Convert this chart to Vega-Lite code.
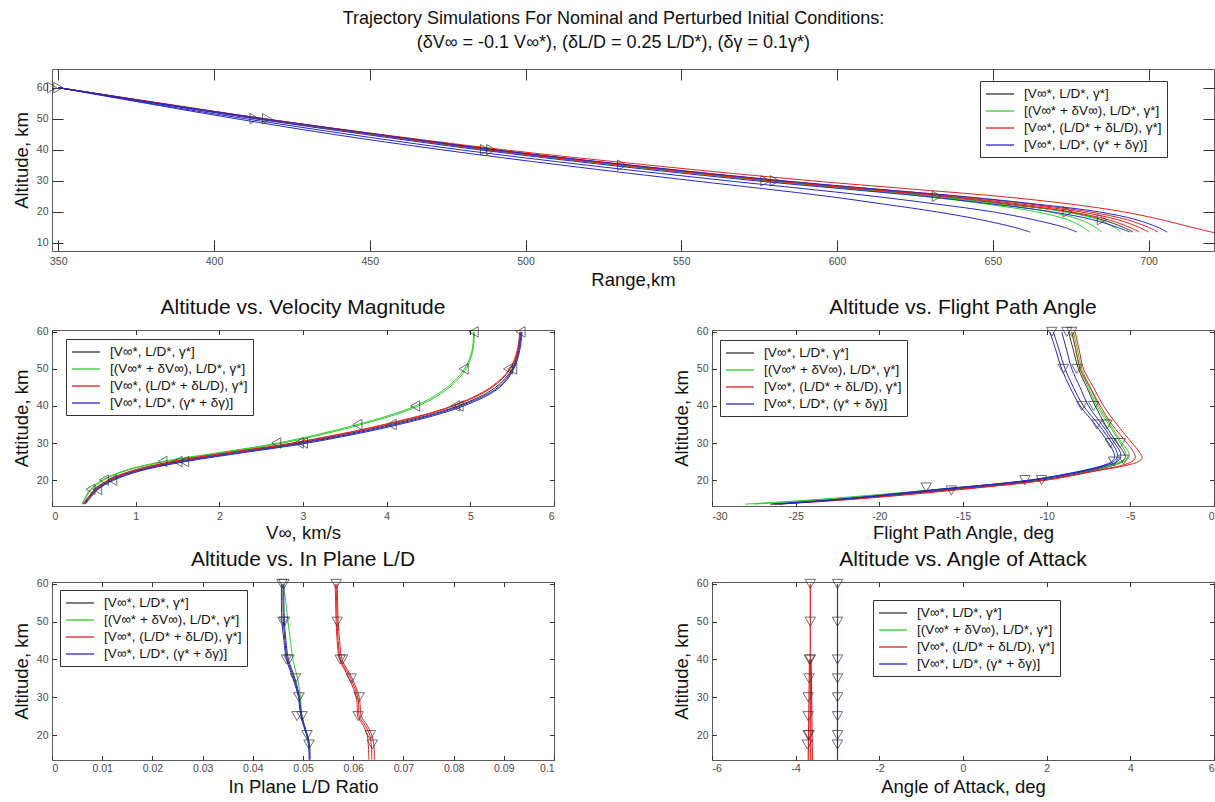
{
"$schema":"https://vega.github.io/schema/vega-lite/v6.json",
"background":"white",
"padding":{"left":11,"top":10,"right":4,"bottom":4},
"config":{
 "font":"Liberation Sans",
 "locale":{"number":{"decimal":".","thousands":",","grouping":[3],"currency":["$",""],"minus":"-"}},
 "view":{"stroke":"#5a5a5a","strokeWidth":1},
 "axis":{"grid":false,"domain":false,"tickColor":"#333","tickWidth":1,"labelFont":"Liberation Sans Narrow, Liberation Sans","labelFontSize":10.5,"labelColor":"#4a4a4a","titleFont":"Liberation Sans","titleFontSize":18.5,"titleFontWeight":"normal","titleColor":"#111"},
 "legend":{"strokeColor":"#333","fillColor":"white","padding":5,"labelFont":"Liberation Sans","labelFontSize":13.5,"labelColor":"#111","symbolStrokeWidth":1.3,"symbolOffset":7,"labelOffset":16,"rowPadding":2},
 "title":{"font":"Liberation Sans","fontWeight":"normal","color":"#111"}
},
"title":{"text":["Trajectory Simulations For Nominal and Perturbed Initial Conditions:","(δV∞ = -0.1 V∞*), (δL/D = 0.25 L/D*), (δγ = 0.1γ*)"],"fontSize":18,"lineHeight":24,"offset":16,"anchor":"middle"},
"datasets":{
"ln":[
{"p":"T","s":"n","i":"n1","y":60,"x":350},{"p":"T","s":"n","i":"n1","y":55,"x":382},{"p":"T","s":"n","i":"n1","y":50,"x":415},{"p":"T","s":"n","i":"n1","y":45,"x":451},{"p":"T","s":"n","i":"n1","y":40,"x":488},{"p":"T","s":"n","i":"n1","y":35,"x":531},{"p":"T","s":"n","i":"n1","y":30,"x":578},{"p":"T","s":"n","i":"n1","y":27.5,"x":605},{"p":"T","s":"n","i":"n1","y":25,"x":632},{"p":"T","s":"n","i":"n1","y":22.5,"x":654},{"p":"T","s":"n","i":"n1","y":20,"x":674},{"p":"T","s":"n","i":"n1","y":17.5,"x":685},{"p":"T","s":"n","i":"n1","y":15,"x":692},{"p":"T","s":"n","i":"n1","y":13.5,"x":695},
{"p":"T","s":"v","i":"g1","y":60,"x":350},{"p":"T","s":"v","i":"g1","y":55,"x":382},{"p":"T","s":"v","i":"g1","y":50,"x":415},{"p":"T","s":"v","i":"g1","y":45,"x":451},{"p":"T","s":"v","i":"g1","y":40,"x":489},{"p":"T","s":"v","i":"g1","y":35,"x":532},{"p":"T","s":"v","i":"g1","y":30,"x":579},{"p":"T","s":"v","i":"g1","y":27.5,"x":605},{"p":"T","s":"v","i":"g1","y":25,"x":631},{"p":"T","s":"v","i":"g1","y":22.5,"x":652},{"p":"T","s":"v","i":"g1","y":20,"x":668},{"p":"T","s":"v","i":"g1","y":17.5,"x":678},{"p":"T","s":"v","i":"g1","y":15,"x":683},{"p":"T","s":"v","i":"g1","y":13.5,"x":685},
{"p":"T","s":"v","i":"g2","y":60,"x":350},{"p":"T","s":"v","i":"g2","y":55,"x":381},{"p":"T","s":"v","i":"g2","y":50,"x":414},{"p":"T","s":"v","i":"g2","y":45,"x":450},{"p":"T","s":"v","i":"g2","y":40,"x":487},{"p":"T","s":"v","i":"g2","y":35,"x":530},{"p":"T","s":"v","i":"g2","y":30,"x":577},{"p":"T","s":"v","i":"g2","y":27.5,"x":603},{"p":"T","s":"v","i":"g2","y":25,"x":628},{"p":"T","s":"v","i":"g2","y":22.5,"x":648},{"p":"T","s":"v","i":"g2","y":20,"x":664},{"p":"T","s":"v","i":"g2","y":17.5,"x":674},{"p":"T","s":"v","i":"g2","y":15,"x":679},{"p":"T","s":"v","i":"g2","y":13.5,"x":681},
{"p":"T","s":"v","i":"g3","y":60,"x":350},{"p":"T","s":"v","i":"g3","y":55,"x":382},{"p":"T","s":"v","i":"g3","y":50,"x":415},{"p":"T","s":"v","i":"g3","y":45,"x":452},{"p":"T","s":"v","i":"g3","y":40,"x":490},{"p":"T","s":"v","i":"g3","y":35,"x":533},{"p":"T","s":"v","i":"g3","y":30,"x":581},{"p":"T","s":"v","i":"g3","y":27.5,"x":608},{"p":"T","s":"v","i":"g3","y":25,"x":634},{"p":"T","s":"v","i":"g3","y":22.5,"x":656},{"p":"T","s":"v","i":"g3","y":20,"x":673},{"p":"T","s":"v","i":"g3","y":17.5,"x":684},{"p":"T","s":"v","i":"g3","y":15,"x":689},{"p":"T","s":"v","i":"g3","y":13.5,"x":691},
{"p":"T","s":"l","i":"r1","y":60,"x":350},{"p":"T","s":"l","i":"r1","y":55,"x":382},{"p":"T","s":"l","i":"r1","y":50,"x":415},{"p":"T","s":"l","i":"r1","y":45,"x":451},{"p":"T","s":"l","i":"r1","y":40,"x":489},{"p":"T","s":"l","i":"r1","y":35,"x":532},{"p":"T","s":"l","i":"r1","y":30,"x":580},{"p":"T","s":"l","i":"r1","y":27.5,"x":608},{"p":"T","s":"l","i":"r1","y":25,"x":636},{"p":"T","s":"l","i":"r1","y":22.5,"x":659},{"p":"T","s":"l","i":"r1","y":20,"x":678},{"p":"T","s":"l","i":"r1","y":17.5,"x":690},{"p":"T","s":"l","i":"r1","y":15,"x":697},{"p":"T","s":"l","i":"r1","y":13.5,"x":700},
{"p":"T","s":"l","i":"r2","y":60,"x":350},{"p":"T","s":"l","i":"r2","y":55,"x":382},{"p":"T","s":"l","i":"r2","y":50,"x":416},{"p":"T","s":"l","i":"r2","y":45,"x":452},{"p":"T","s":"l","i":"r2","y":40,"x":490},{"p":"T","s":"l","i":"r2","y":35,"x":534},{"p":"T","s":"l","i":"r2","y":30,"x":582},{"p":"T","s":"l","i":"r2","y":27.5,"x":610},{"p":"T","s":"l","i":"r2","y":25,"x":639},{"p":"T","s":"l","i":"r2","y":22.5,"x":662},{"p":"T","s":"l","i":"r2","y":20,"x":681},{"p":"T","s":"l","i":"r2","y":17.5,"x":693},{"p":"T","s":"l","i":"r2","y":15,"x":700},{"p":"T","s":"l","i":"r2","y":13.5,"x":703},
{"p":"T","s":"l","i":"r3","y":60,"x":350},{"p":"T","s":"l","i":"r3","y":55,"x":382},{"p":"T","s":"l","i":"r3","y":50,"x":415},{"p":"T","s":"l","i":"r3","y":45,"x":451},{"p":"T","s":"l","i":"r3","y":40,"x":488},{"p":"T","s":"l","i":"r3","y":35,"x":531},{"p":"T","s":"l","i":"r3","y":30,"x":579},{"p":"T","s":"l","i":"r3","y":27.5,"x":606},{"p":"T","s":"l","i":"r3","y":25,"x":634},{"p":"T","s":"l","i":"r3","y":22.5,"x":656},{"p":"T","s":"l","i":"r3","y":20,"x":675},{"p":"T","s":"l","i":"r3","y":17.5,"x":687},{"p":"T","s":"l","i":"r3","y":15,"x":694},{"p":"T","s":"l","i":"r3","y":13.5,"x":697},
{"p":"T","s":"l","i":"r4","y":60,"x":350},{"p":"T","s":"l","i":"r4","y":55,"x":383},{"p":"T","s":"l","i":"r4","y":50,"x":416},{"p":"T","s":"l","i":"r4","y":45,"x":453},{"p":"T","s":"l","i":"r4","y":40,"x":493},{"p":"T","s":"l","i":"r4","y":35,"x":540},{"p":"T","s":"l","i":"r4","y":30,"x":592},{"p":"T","s":"l","i":"r4","y":27.5,"x":622},{"p":"T","s":"l","i":"r4","y":25,"x":652},{"p":"T","s":"l","i":"r4","y":22.5,"x":675},{"p":"T","s":"l","i":"r4","y":20,"x":692},{"p":"T","s":"l","i":"r4","y":17.5,"x":704},{"p":"T","s":"l","i":"r4","y":15,"x":714},{"p":"T","s":"l","i":"r4","y":13.3,"x":721},
{"p":"T","s":"g","i":"b1","y":60,"x":350},{"p":"T","s":"g","i":"b1","y":55,"x":382},{"p":"T","s":"g","i":"b1","y":50,"x":416},{"p":"T","s":"g","i":"b1","y":45,"x":452},{"p":"T","s":"g","i":"b1","y":40,"x":490},{"p":"T","s":"g","i":"b1","y":35,"x":534},{"p":"T","s":"g","i":"b1","y":30,"x":583},{"p":"T","s":"g","i":"b1","y":27.5,"x":611},{"p":"T","s":"g","i":"b1","y":25,"x":640},{"p":"T","s":"g","i":"b1","y":22.5,"x":664},{"p":"T","s":"g","i":"b1","y":20,"x":684},{"p":"T","s":"g","i":"b1","y":17.5,"x":696},{"p":"T","s":"g","i":"b1","y":15,"x":703},{"p":"T","s":"g","i":"b1","y":13.5,"x":706},
{"p":"T","s":"g","i":"b2","y":60,"x":350},{"p":"T","s":"g","i":"b2","y":55,"x":381},{"p":"T","s":"g","i":"b2","y":50,"x":413},{"p":"T","s":"g","i":"b2","y":45,"x":448},{"p":"T","s":"g","i":"b2","y":40,"x":485},{"p":"T","s":"g","i":"b2","y":35,"x":527},{"p":"T","s":"g","i":"b2","y":30,"x":574},{"p":"T","s":"g","i":"b2","y":27.5,"x":601},{"p":"T","s":"g","i":"b2","y":25,"x":628},{"p":"T","s":"g","i":"b2","y":22.5,"x":650},{"p":"T","s":"g","i":"b2","y":20,"x":669},{"p":"T","s":"g","i":"b2","y":17.5,"x":682},{"p":"T","s":"g","i":"b2","y":15,"x":690},{"p":"T","s":"g","i":"b2","y":13.5,"x":694},
{"p":"T","s":"g","i":"b3","y":60,"x":350},{"p":"T","s":"g","i":"b3","y":55,"x":379},{"p":"T","s":"g","i":"b3","y":50,"x":410},{"p":"T","s":"g","i":"b3","y":45,"x":443},{"p":"T","s":"g","i":"b3","y":40,"x":479},{"p":"T","s":"g","i":"b3","y":35,"x":520},{"p":"T","s":"g","i":"b3","y":30,"x":565},{"p":"T","s":"g","i":"b3","y":27.5,"x":589},{"p":"T","s":"g","i":"b3","y":25,"x":612},{"p":"T","s":"g","i":"b3","y":22.5,"x":632},{"p":"T","s":"g","i":"b3","y":20,"x":650},{"p":"T","s":"g","i":"b3","y":17.5,"x":663},{"p":"T","s":"g","i":"b3","y":15,"x":673},{"p":"T","s":"g","i":"b3","y":13.5,"x":677},
{"p":"T","s":"g","i":"b4","y":60,"x":350},{"p":"T","s":"g","i":"b4","y":55,"x":378},{"p":"T","s":"g","i":"b4","y":50,"x":407},{"p":"T","s":"g","i":"b4","y":45,"x":438},{"p":"T","s":"g","i":"b4","y":40,"x":473},{"p":"T","s":"g","i":"b4","y":35,"x":512},{"p":"T","s":"g","i":"b4","y":30,"x":554},{"p":"T","s":"g","i":"b4","y":27.5,"x":576},{"p":"T","s":"g","i":"b4","y":25,"x":597},{"p":"T","s":"g","i":"b4","y":22.5,"x":615},{"p":"T","s":"g","i":"b4","y":20,"x":632},{"p":"T","s":"g","i":"b4","y":17.5,"x":646},{"p":"T","s":"g","i":"b4","y":15,"x":657},{"p":"T","s":"g","i":"b4","y":13.5,"x":662},

{"p":"V","s":"n","i":"n1","y":60,"x":5.6},{"p":"V","s":"n","i":"n1","y":55,"x":5.57},{"p":"V","s":"n","i":"n1","y":50,"x":5.5},{"p":"V","s":"n","i":"n1","y":45,"x":5.3},{"p":"V","s":"n","i":"n1","y":40,"x":4.85},{"p":"V","s":"n","i":"n1","y":35,"x":4.05},{"p":"V","s":"n","i":"n1","y":30,"x":2.95},{"p":"V","s":"n","i":"n1","y":27.5,"x":2.2},{"p":"V","s":"n","i":"n1","y":25,"x":1.5},{"p":"V","s":"n","i":"n1","y":22.5,"x":1.0},{"p":"V","s":"n","i":"n1","y":20,"x":0.7},{"p":"V","s":"n","i":"n1","y":17.5,"x":0.53},{"p":"V","s":"n","i":"n1","y":15,"x":0.43},{"p":"V","s":"n","i":"n1","y":13.5,"x":0.38},
{"p":"V","s":"v","i":"g1","y":60,"x":5.04},{"p":"V","s":"v","i":"g1","y":55,"x":5.02},{"p":"V","s":"v","i":"g1","y":50,"x":4.93},{"p":"V","s":"v","i":"g1","y":45,"x":4.72},{"p":"V","s":"v","i":"g1","y":40,"x":4.34},{"p":"V","s":"v","i":"g1","y":35,"x":3.65},{"p":"V","s":"v","i":"g1","y":30,"x":2.7},{"p":"V","s":"v","i":"g1","y":27.5,"x":2.02},{"p":"V","s":"v","i":"g1","y":25,"x":1.32},{"p":"V","s":"v","i":"g1","y":22.5,"x":0.86},{"p":"V","s":"v","i":"g1","y":20,"x":0.6},{"p":"V","s":"v","i":"g1","y":17.5,"x":0.46},{"p":"V","s":"v","i":"g1","y":15,"x":0.39},{"p":"V","s":"v","i":"g1","y":13.5,"x":0.36},
{"p":"V","s":"v","i":"g2","y":60,"x":5.05},{"p":"V","s":"v","i":"g2","y":55,"x":5.03},{"p":"V","s":"v","i":"g2","y":50,"x":4.95},{"p":"V","s":"v","i":"g2","y":45,"x":4.75},{"p":"V","s":"v","i":"g2","y":40,"x":4.38},{"p":"V","s":"v","i":"g2","y":35,"x":3.7},{"p":"V","s":"v","i":"g2","y":30,"x":2.76},{"p":"V","s":"v","i":"g2","y":27.5,"x":2.07},{"p":"V","s":"v","i":"g2","y":25,"x":1.36},{"p":"V","s":"v","i":"g2","y":22.5,"x":0.88},{"p":"V","s":"v","i":"g2","y":20,"x":0.62},{"p":"V","s":"v","i":"g2","y":17.5,"x":0.47},{"p":"V","s":"v","i":"g2","y":15,"x":0.4},{"p":"V","s":"v","i":"g2","y":13.5,"x":0.36},
{"p":"V","s":"l","i":"r1","y":60,"x":5.6},{"p":"V","s":"l","i":"r1","y":55,"x":5.57},{"p":"V","s":"l","i":"r1","y":50,"x":5.48},{"p":"V","s":"l","i":"r1","y":45,"x":5.26},{"p":"V","s":"l","i":"r1","y":40,"x":4.8},{"p":"V","s":"l","i":"r1","y":35,"x":4.0},{"p":"V","s":"l","i":"r1","y":30,"x":2.9},{"p":"V","s":"l","i":"r1","y":27.5,"x":2.16},{"p":"V","s":"l","i":"r1","y":25,"x":1.46},{"p":"V","s":"l","i":"r1","y":22.5,"x":0.97},{"p":"V","s":"l","i":"r1","y":20,"x":0.68},{"p":"V","s":"l","i":"r1","y":17.5,"x":0.52},{"p":"V","s":"l","i":"r1","y":15,"x":0.42},{"p":"V","s":"l","i":"r1","y":13.5,"x":0.37},
{"p":"V","s":"l","i":"r2","y":60,"x":5.59},{"p":"V","s":"l","i":"r2","y":55,"x":5.56},{"p":"V","s":"l","i":"r2","y":50,"x":5.47},{"p":"V","s":"l","i":"r2","y":45,"x":5.24},{"p":"V","s":"l","i":"r2","y":40,"x":4.78},{"p":"V","s":"l","i":"r2","y":35,"x":3.97},{"p":"V","s":"l","i":"r2","y":30,"x":2.87},{"p":"V","s":"l","i":"r2","y":27.5,"x":2.12},{"p":"V","s":"l","i":"r2","y":25,"x":1.43},{"p":"V","s":"l","i":"r2","y":22.5,"x":0.95},{"p":"V","s":"l","i":"r2","y":20,"x":0.67},{"p":"V","s":"l","i":"r2","y":17.5,"x":0.51},{"p":"V","s":"l","i":"r2","y":15,"x":0.42},{"p":"V","s":"l","i":"r2","y":13.5,"x":0.37},
{"p":"V","s":"g","i":"b1","y":60,"x":5.61},{"p":"V","s":"g","i":"b1","y":55,"x":5.58},{"p":"V","s":"g","i":"b1","y":50,"x":5.51},{"p":"V","s":"g","i":"b1","y":45,"x":5.33},{"p":"V","s":"g","i":"b1","y":40,"x":4.88},{"p":"V","s":"g","i":"b1","y":35,"x":4.1},{"p":"V","s":"g","i":"b1","y":30,"x":3.0},{"p":"V","s":"g","i":"b1","y":27.5,"x":2.26},{"p":"V","s":"g","i":"b1","y":25,"x":1.55},{"p":"V","s":"g","i":"b1","y":22.5,"x":1.03},{"p":"V","s":"g","i":"b1","y":20,"x":0.72},{"p":"V","s":"g","i":"b1","y":17.5,"x":0.54},{"p":"V","s":"g","i":"b1","y":15,"x":0.44},{"p":"V","s":"g","i":"b1","y":13.5,"x":0.39},
{"p":"V","s":"g","i":"b2","y":60,"x":5.62},{"p":"V","s":"g","i":"b2","y":55,"x":5.59},{"p":"V","s":"g","i":"b2","y":50,"x":5.52},{"p":"V","s":"g","i":"b2","y":45,"x":5.35},{"p":"V","s":"g","i":"b2","y":40,"x":4.92},{"p":"V","s":"g","i":"b2","y":35,"x":4.15},{"p":"V","s":"g","i":"b2","y":30,"x":3.06},{"p":"V","s":"g","i":"b2","y":27.5,"x":2.32},{"p":"V","s":"g","i":"b2","y":25,"x":1.6},{"p":"V","s":"g","i":"b2","y":22.5,"x":1.06},{"p":"V","s":"g","i":"b2","y":20,"x":0.74},{"p":"V","s":"g","i":"b2","y":17.5,"x":0.55},{"p":"V","s":"g","i":"b2","y":15,"x":0.45},{"p":"V","s":"g","i":"b2","y":13.5,"x":0.4},

{"p":"F","s":"n","i":"n1","y":60,"x":-8.7},{"p":"F","s":"n","i":"n1","y":55,"x":-8.4},{"p":"F","s":"n","i":"n1","y":50,"x":-8.1},{"p":"F","s":"n","i":"n1","y":45,"x":-7.6},{"p":"F","s":"n","i":"n1","y":40,"x":-7.1},{"p":"F","s":"n","i":"n1","y":35,"x":-6.5},{"p":"F","s":"n","i":"n1","y":30,"x":-5.8},{"p":"F","s":"n","i":"n1","y":27.5,"x":-5.4},{"p":"F","s":"n","i":"n1","y":26,"x":-5.3},{"p":"F","s":"n","i":"n1","y":25,"x":-5.5},{"p":"F","s":"n","i":"n1","y":24,"x":-6.0},{"p":"F","s":"n","i":"n1","y":22.5,"x":-7.3},{"p":"F","s":"n","i":"n1","y":20,"x":-10.3},{"p":"F","s":"n","i":"n1","y":17.5,"x":-15.6},{"p":"F","s":"n","i":"n1","y":15,"x":-21.5},{"p":"F","s":"n","i":"n1","y":13.5,"x":-26.5},
{"p":"F","s":"v","i":"g1","y":60,"x":-8.5},{"p":"F","s":"v","i":"g1","y":55,"x":-8.25},{"p":"F","s":"v","i":"g1","y":50,"x":-8.0},{"p":"F","s":"v","i":"g1","y":45,"x":-7.5},{"p":"F","s":"v","i":"g1","y":40,"x":-7.0},{"p":"F","s":"v","i":"g1","y":35,"x":-6.3},{"p":"F","s":"v","i":"g1","y":30,"x":-5.6},{"p":"F","s":"v","i":"g1","y":27.5,"x":-5.3},{"p":"F","s":"v","i":"g1","y":26,"x":-5.3},{"p":"F","s":"v","i":"g1","y":25,"x":-5.6},{"p":"F","s":"v","i":"g1","y":24,"x":-6.3},{"p":"F","s":"v","i":"g1","y":22.5,"x":-7.8},{"p":"F","s":"v","i":"g1","y":20,"x":-11.0},{"p":"F","s":"v","i":"g1","y":17.5,"x":-16.5},{"p":"F","s":"v","i":"g1","y":15,"x":-23.0},{"p":"F","s":"v","i":"g1","y":13.5,"x":-28.0},
{"p":"F","s":"v","i":"g2","y":60,"x":-8.4},{"p":"F","s":"v","i":"g2","y":55,"x":-8.15},{"p":"F","s":"v","i":"g2","y":50,"x":-7.9},{"p":"F","s":"v","i":"g2","y":45,"x":-7.4},{"p":"F","s":"v","i":"g2","y":40,"x":-6.9},{"p":"F","s":"v","i":"g2","y":35,"x":-6.2},{"p":"F","s":"v","i":"g2","y":30,"x":-5.5},{"p":"F","s":"v","i":"g2","y":27.5,"x":-5.1},{"p":"F","s":"v","i":"g2","y":26,"x":-5.1},{"p":"F","s":"v","i":"g2","y":25,"x":-5.4},{"p":"F","s":"v","i":"g2","y":24,"x":-6.0},{"p":"F","s":"v","i":"g2","y":22.5,"x":-7.5},{"p":"F","s":"v","i":"g2","y":20,"x":-10.7},{"p":"F","s":"v","i":"g2","y":17.5,"x":-16.2},{"p":"F","s":"v","i":"g2","y":15,"x":-22.5},{"p":"F","s":"v","i":"g2","y":13.5,"x":-27.5},
{"p":"F","s":"l","i":"r1","y":60,"x":-8.3},{"p":"F","s":"l","i":"r1","y":55,"x":-8.05},{"p":"F","s":"l","i":"r1","y":50,"x":-7.8},{"p":"F","s":"l","i":"r1","y":45,"x":-7.2},{"p":"F","s":"l","i":"r1","y":40,"x":-6.6},{"p":"F","s":"l","i":"r1","y":35,"x":-5.8},{"p":"F","s":"l","i":"r1","y":30,"x":-4.9},{"p":"F","s":"l","i":"r1","y":27.5,"x":-4.45},{"p":"F","s":"l","i":"r1","y":26,"x":-4.3},{"p":"F","s":"l","i":"r1","y":25,"x":-4.5},{"p":"F","s":"l","i":"r1","y":24,"x":-5.2},{"p":"F","s":"l","i":"r1","y":22.5,"x":-7.0},{"p":"F","s":"l","i":"r1","y":20,"x":-10.0},{"p":"F","s":"l","i":"r1","y":17.5,"x":-15.0},{"p":"F","s":"l","i":"r1","y":15,"x":-21.0},{"p":"F","s":"l","i":"r1","y":13.5,"x":-26.0},
{"p":"F","s":"l","i":"r2","y":60,"x":-8.5},{"p":"F","s":"l","i":"r2","y":55,"x":-8.25},{"p":"F","s":"l","i":"r2","y":50,"x":-8.0},{"p":"F","s":"l","i":"r2","y":45,"x":-7.4},{"p":"F","s":"l","i":"r2","y":40,"x":-6.8},{"p":"F","s":"l","i":"r2","y":35,"x":-6.1},{"p":"F","s":"l","i":"r2","y":30,"x":-5.2},{"p":"F","s":"l","i":"r2","y":27.5,"x":-4.8},{"p":"F","s":"l","i":"r2","y":26,"x":-4.7},{"p":"F","s":"l","i":"r2","y":25,"x":-4.9},{"p":"F","s":"l","i":"r2","y":24,"x":-5.5},{"p":"F","s":"l","i":"r2","y":22.5,"x":-7.1},{"p":"F","s":"l","i":"r2","y":20,"x":-10.1},{"p":"F","s":"l","i":"r2","y":17.5,"x":-15.3},{"p":"F","s":"l","i":"r2","y":15,"x":-21.3},{"p":"F","s":"l","i":"r2","y":13.5,"x":-26.3},
{"p":"F","s":"g","i":"b1","y":60,"x":-9.8},{"p":"F","s":"g","i":"b1","y":55,"x":-9.45},{"p":"F","s":"g","i":"b1","y":50,"x":-9.1},{"p":"F","s":"g","i":"b1","y":45,"x":-8.6},{"p":"F","s":"g","i":"b1","y":40,"x":-8.0},{"p":"F","s":"g","i":"b1","y":35,"x":-7.1},{"p":"F","s":"g","i":"b1","y":30,"x":-6.3},{"p":"F","s":"g","i":"b1","y":27.5,"x":-6.0},{"p":"F","s":"g","i":"b1","y":26,"x":-5.95},{"p":"F","s":"g","i":"b1","y":25,"x":-6.1},{"p":"F","s":"g","i":"b1","y":24,"x":-6.6},{"p":"F","s":"g","i":"b1","y":22.5,"x":-7.9},{"p":"F","s":"g","i":"b1","y":20,"x":-11.0},{"p":"F","s":"g","i":"b1","y":17.5,"x":-16.5},{"p":"F","s":"g","i":"b1","y":15,"x":-22.0},{"p":"F","s":"g","i":"b1","y":13.5,"x":-26.5},
{"p":"F","s":"g","i":"b2","y":60,"x":-9.6},{"p":"F","s":"g","i":"b2","y":55,"x":-9.25},{"p":"F","s":"g","i":"b2","y":50,"x":-8.9},{"p":"F","s":"g","i":"b2","y":45,"x":-8.4},{"p":"F","s":"g","i":"b2","y":40,"x":-7.8},{"p":"F","s":"g","i":"b2","y":35,"x":-6.9},{"p":"F","s":"g","i":"b2","y":30,"x":-6.1},{"p":"F","s":"g","i":"b2","y":27.5,"x":-5.8},{"p":"F","s":"g","i":"b2","y":26,"x":-5.8},{"p":"F","s":"g","i":"b2","y":25,"x":-6.0},{"p":"F","s":"g","i":"b2","y":24,"x":-6.5},{"p":"F","s":"g","i":"b2","y":22.5,"x":-7.8},{"p":"F","s":"g","i":"b2","y":20,"x":-10.9},{"p":"F","s":"g","i":"b2","y":17.5,"x":-16.3},{"p":"F","s":"g","i":"b2","y":15,"x":-21.8},{"p":"F","s":"g","i":"b2","y":13.5,"x":-26.2},
{"p":"F","s":"g","i":"b3","y":60,"x":-9.1},{"p":"F","s":"g","i":"b3","y":55,"x":-8.8},{"p":"F","s":"g","i":"b3","y":50,"x":-8.5},{"p":"F","s":"g","i":"b3","y":45,"x":-8.0},{"p":"F","s":"g","i":"b3","y":40,"x":-7.5},{"p":"F","s":"g","i":"b3","y":35,"x":-6.7},{"p":"F","s":"g","i":"b3","y":30,"x":-5.95},{"p":"F","s":"g","i":"b3","y":27.5,"x":-5.6},{"p":"F","s":"g","i":"b3","y":26,"x":-5.6},{"p":"F","s":"g","i":"b3","y":25,"x":-5.8},{"p":"F","s":"g","i":"b3","y":24,"x":-6.3},{"p":"F","s":"g","i":"b3","y":22.5,"x":-7.6},{"p":"F","s":"g","i":"b3","y":20,"x":-10.7},{"p":"F","s":"g","i":"b3","y":17.5,"x":-16.0},{"p":"F","s":"g","i":"b3","y":15,"x":-21.7},{"p":"F","s":"g","i":"b3","y":13.5,"x":-26.0},

{"p":"L","s":"n","i":"n1","y":60,"x":0.046},{"p":"L","s":"n","i":"n1","y":55,"x":0.046},{"p":"L","s":"n","i":"n1","y":50,"x":0.0461},{"p":"L","s":"n","i":"n1","y":45,"x":0.0464},{"p":"L","s":"n","i":"n1","y":40,"x":0.0469},{"p":"L","s":"n","i":"n1","y":35,"x":0.0482},{"p":"L","s":"n","i":"n1","y":30,"x":0.0492},{"p":"L","s":"n","i":"n1","y":27.5,"x":0.0494},{"p":"L","s":"n","i":"n1","y":25,"x":0.0497},{"p":"L","s":"n","i":"n1","y":22.5,"x":0.0502},{"p":"L","s":"n","i":"n1","y":20,"x":0.0508},{"p":"L","s":"n","i":"n1","y":17.5,"x":0.0512},{"p":"L","s":"n","i":"n1","y":15,"x":0.0513},{"p":"L","s":"n","i":"n1","y":13.5,"x":0.0513},
{"p":"L","s":"v","i":"g1","y":60,"x":0.046},{"p":"L","s":"v","i":"g1","y":55,"x":0.0466},{"p":"L","s":"v","i":"g1","y":50,"x":0.047},{"p":"L","s":"v","i":"g1","y":45,"x":0.0475},{"p":"L","s":"v","i":"g1","y":40,"x":0.048},{"p":"L","s":"v","i":"g1","y":35,"x":0.0489},{"p":"L","s":"v","i":"g1","y":30,"x":0.0495},{"p":"L","s":"v","i":"g1","y":27.5,"x":0.0496},{"p":"L","s":"v","i":"g1","y":25,"x":0.0498},{"p":"L","s":"v","i":"g1","y":22.5,"x":0.0503},{"p":"L","s":"v","i":"g1","y":20,"x":0.0508},{"p":"L","s":"v","i":"g1","y":17.5,"x":0.0512},{"p":"L","s":"v","i":"g1","y":15,"x":0.0513},{"p":"L","s":"v","i":"g1","y":13.5,"x":0.0513},
{"p":"L","s":"g","i":"b1","y":60,"x":0.0457},{"p":"L","s":"g","i":"b1","y":55,"x":0.0457},{"p":"L","s":"g","i":"b1","y":50,"x":0.0458},{"p":"L","s":"g","i":"b1","y":45,"x":0.0462},{"p":"L","s":"g","i":"b1","y":40,"x":0.0467},{"p":"L","s":"g","i":"b1","y":35,"x":0.048},{"p":"L","s":"g","i":"b1","y":30,"x":0.0491},{"p":"L","s":"g","i":"b1","y":27.5,"x":0.0493},{"p":"L","s":"g","i":"b1","y":25,"x":0.0496},{"p":"L","s":"g","i":"b1","y":22.5,"x":0.0501},{"p":"L","s":"g","i":"b1","y":20,"x":0.0507},{"p":"L","s":"g","i":"b1","y":17.5,"x":0.0511},{"p":"L","s":"g","i":"b1","y":15,"x":0.0512},{"p":"L","s":"g","i":"b1","y":13.5,"x":0.0512},
{"p":"L","s":"g","i":"b2","y":60,"x":0.0462},{"p":"L","s":"g","i":"b2","y":55,"x":0.0462},{"p":"L","s":"g","i":"b2","y":50,"x":0.0463},{"p":"L","s":"g","i":"b2","y":45,"x":0.0466},{"p":"L","s":"g","i":"b2","y":40,"x":0.0471},{"p":"L","s":"g","i":"b2","y":35,"x":0.0484},{"p":"L","s":"g","i":"b2","y":30,"x":0.0493},{"p":"L","s":"g","i":"b2","y":27.5,"x":0.0495},{"p":"L","s":"g","i":"b2","y":25,"x":0.0498},{"p":"L","s":"g","i":"b2","y":22.5,"x":0.0503},{"p":"L","s":"g","i":"b2","y":20,"x":0.0509},{"p":"L","s":"g","i":"b2","y":17.5,"x":0.0513},{"p":"L","s":"g","i":"b2","y":15,"x":0.0514},{"p":"L","s":"g","i":"b2","y":13.5,"x":0.0514},
{"p":"L","s":"l","i":"r1","y":60,"x":0.0566},{"p":"L","s":"l","i":"r1","y":55,"x":0.0567},{"p":"L","s":"l","i":"r1","y":50,"x":0.0568},{"p":"L","s":"l","i":"r1","y":45,"x":0.057},{"p":"L","s":"l","i":"r1","y":40,"x":0.0575},{"p":"L","s":"l","i":"r1","y":35,"x":0.0595},{"p":"L","s":"l","i":"r1","y":30,"x":0.0609},{"p":"L","s":"l","i":"r1","y":27.5,"x":0.0611},{"p":"L","s":"l","i":"r1","y":25,"x":0.0612},{"p":"L","s":"l","i":"r1","y":22.5,"x":0.0624},{"p":"L","s":"l","i":"r1","y":20,"x":0.0633},{"p":"L","s":"l","i":"r1","y":17.5,"x":0.0636},{"p":"L","s":"l","i":"r1","y":15,"x":0.0637},{"p":"L","s":"l","i":"r1","y":13.5,"x":0.0637},
{"p":"L","s":"l","i":"r2","y":60,"x":0.0568},{"p":"L","s":"l","i":"r2","y":55,"x":0.0569},{"p":"L","s":"l","i":"r2","y":50,"x":0.057},{"p":"L","s":"l","i":"r2","y":45,"x":0.0573},{"p":"L","s":"l","i":"r2","y":40,"x":0.0578},{"p":"L","s":"l","i":"r2","y":35,"x":0.0598},{"p":"L","s":"l","i":"r2","y":30,"x":0.0612},{"p":"L","s":"l","i":"r2","y":27.5,"x":0.0614},{"p":"L","s":"l","i":"r2","y":25,"x":0.0616},{"p":"L","s":"l","i":"r2","y":22.5,"x":0.0628},{"p":"L","s":"l","i":"r2","y":20,"x":0.0637},{"p":"L","s":"l","i":"r2","y":17.5,"x":0.0641},{"p":"L","s":"l","i":"r2","y":15,"x":0.0642},{"p":"L","s":"l","i":"r2","y":13.5,"x":0.0642},
{"p":"L","s":"l","i":"r3","y":60,"x":0.0564},{"p":"L","s":"l","i":"r3","y":55,"x":0.0565},{"p":"L","s":"l","i":"r3","y":50,"x":0.0566},{"p":"L","s":"l","i":"r3","y":45,"x":0.0568},{"p":"L","s":"l","i":"r3","y":40,"x":0.0573},{"p":"L","s":"l","i":"r3","y":35,"x":0.0592},{"p":"L","s":"l","i":"r3","y":30,"x":0.0606},{"p":"L","s":"l","i":"r3","y":27.5,"x":0.0608},{"p":"L","s":"l","i":"r3","y":25,"x":0.0609},{"p":"L","s":"l","i":"r3","y":22.5,"x":0.062},{"p":"L","s":"l","i":"r3","y":20,"x":0.0628},{"p":"L","s":"l","i":"r3","y":17.5,"x":0.063},{"p":"L","s":"l","i":"r3","y":15,"x":0.0631},{"p":"L","s":"l","i":"r3","y":13.5,"x":0.0631},

{"p":"A","s":"g","i":"b1","y":60,"x":-3.0},{"p":"A","s":"g","i":"b1","y":13.4,"x":-3.0},
{"p":"A","s":"l","i":"r1","y":60,"x":-3.65},{"p":"A","s":"l","i":"r1","y":13.4,"x":-3.65},
{"p":"A","s":"l","i":"r2","y":40,"x":-3.63},{"p":"A","s":"l","i":"r2","y":13.4,"x":-3.6},
{"p":"A","s":"l","i":"r3","y":40,"x":-3.67},{"p":"A","s":"l","i":"r3","y":13.4,"x":-3.7}
],
"mk":[
{"p":"T","x":348,"y":60},{"p":"T","x":350,"y":60},{"p":"T","x":413,"y":50},{"p":"T","x":417,"y":50},{"p":"T","x":487,"y":40},{"p":"T","x":489,"y":40},{"p":"T","x":531,"y":35},{"p":"T","x":577,"y":30},{"p":"T","x":580,"y":30},{"p":"T","x":632,"y":25},{"p":"T","x":674,"y":20},{"p":"T","x":685,"y":17.5},
{"p":"V","x":5.6,"y":60},{"p":"V","x":5.45,"y":50},{"p":"V","x":5.5,"y":50},{"p":"V","x":4.82,"y":40},{"p":"V","x":4.86,"y":40},{"p":"V","x":4.06,"y":35},{"p":"V","x":2.95,"y":30},{"p":"V","x":3.0,"y":30},{"p":"V","x":1.58,"y":25},{"p":"V","x":1.5,"y":25},{"p":"V","x":0.72,"y":20},{"p":"V","x":0.54,"y":17.5},
{"p":"V","x":5.04,"y":60},{"p":"V","x":4.92,"y":50},{"p":"V","x":4.34,"y":40},{"p":"V","x":3.65,"y":35},{"p":"V","x":2.68,"y":30},{"p":"V","x":1.32,"y":25},{"p":"V","x":0.62,"y":20},{"p":"V","x":0.46,"y":17.5},
{"p":"F","x":-9.7,"y":60},{"p":"F","x":-8.8,"y":60},{"p":"F","x":-8.5,"y":60},{"p":"F","x":-9.0,"y":50},{"p":"F","x":-8.2,"y":50},{"p":"F","x":-7.9,"y":40},{"p":"F","x":-7.2,"y":40},{"p":"F","x":-7.0,"y":35},{"p":"F","x":-6.4,"y":35},{"p":"F","x":-6.2,"y":30},{"p":"F","x":-5.6,"y":30},{"p":"F","x":-5.4,"y":25.5},{"p":"F","x":-6.0,"y":25},{"p":"F","x":-11.3,"y":20},{"p":"F","x":-10.3,"y":20},{"p":"F","x":-17.2,"y":18},{"p":"F","x":-15.7,"y":17.2},
{"p":"L","x":0.0458,"y":60},{"p":"L","x":0.0462,"y":60},{"p":"L","x":0.0566,"y":60},{"p":"L","x":0.046,"y":50},{"p":"L","x":0.0463,"y":50},{"p":"L","x":0.0568,"y":50},{"p":"L","x":0.0467,"y":40},{"p":"L","x":0.0472,"y":40},{"p":"L","x":0.0574,"y":40},{"p":"L","x":0.0579,"y":40},{"p":"L","x":0.0485,"y":35},{"p":"L","x":0.0596,"y":35},{"p":"L","x":0.0492,"y":30},{"p":"L","x":0.0612,"y":30},{"p":"L","x":0.0488,"y":25},{"p":"L","x":0.0498,"y":25},{"p":"L","x":0.061,"y":25},{"p":"L","x":0.0508,"y":20},{"p":"L","x":0.0634,"y":20},{"p":"L","x":0.0512,"y":17.5},{"p":"L","x":0.0638,"y":17.5},
{"p":"A","x":-3.65,"y":60},{"p":"A","x":-3.65,"y":50},{"p":"A","x":-3.67,"y":40},{"p":"A","x":-3.65,"y":40},{"p":"A","x":-3.68,"y":35},{"p":"A","x":-3.7,"y":30},{"p":"A","x":-3.7,"y":25},{"p":"A","x":-3.7,"y":20},{"p":"A","x":-3.68,"y":20},{"p":"A","x":-3.72,"y":17.5},
{"p":"A","x":-3.0,"y":60},{"p":"A","x":-3.0,"y":50},{"p":"A","x":-3.0,"y":40},{"p":"A","x":-3.0,"y":35},{"p":"A","x":-3.0,"y":30},{"p":"A","x":-3.0,"y":25},{"p":"A","x":-3.0,"y":20},{"p":"A","x":-3.0,"y":17.5}
]
},
"vconcat":[
{
 "width":1162,"height":182,
 "layer":[
  {"data":{"name":"ln"},"transform":[{"filter":"datum.p=='T'"}],
   "mark":{"type":"line","strokeWidth":1,"interpolate":"catmull-rom","clip":true},
   "encoding":{
    "x":{"field":"x","type":"quantitative","scale":{"domain":[348,721],"nice":false,"zero":false},"axis":{"values":[350,400,450,500,550,600,650,700],"tickSize":-11,"labelPadding":16,"title":"Range,km","titlePadding":4}},
    "y":{"field":"y","type":"quantitative","scale":{"domain":[7.4,66],"nice":false,"zero":false},"axis":{"values":[10,20,30,40,50,60],"tickSize":-11,"labelPadding":15,"title":"Altitude, km","titlePadding":5}},
    "color":{"field":"s","type":"nominal","scale":{"domain":["n","v","l","g"],"range":["#333333","#2ecc2e","#e02020","#2828c0"]},
      "legend":{"orient":"none","legendX":928,"legendY":12,"title":null,"symbolType":"M-2,0H2","symbolSize":196,
      "labelExpr":"datum.value=='n'?'[V∞*, L/D*, γ*]':datum.value=='v'?'[(V∞* + δV∞), L/D*, γ*]':datum.value=='l'?'[V∞*, (L/D* + δL/D), γ*]':'[V∞*, L/D*, (γ* + δγ)]'"}},
    "detail":{"field":"i"},
    "order":{"field":"y","sort":"descending"}
   }},
  {"data":{"name":"mk"},"transform":[{"filter":"datum.p=='T'"}],
   "mark":{"type":"point","shape":"triangle-right","filled":false,"stroke":"#333","strokeWidth":1,"size":110},
   "encoding":{
    "x":{"field":"x","type":"quantitative","scale":{"domain":[348,721],"nice":false,"zero":false},"axis":{"orient":"top","values":[350,400,450,500,550,600,650,700],"tickSize":-11,"labels":false,"title":null}},
    "y":{"field":"y","type":"quantitative","scale":{"domain":[7.4,66],"nice":false,"zero":false},"axis":{"orient":"right","values":[10,20,30,40,50,60],"tickSize":-11,"labels":false,"title":null}}
   }}
 ],
 "resolve":{"axis":{"x":"independent","y":"independent"}}
},
{
"vconcat":[
{
 "hconcat":[
 {
  "title":{"text":"Altitude vs. Velocity Magnitude","fontSize":21,"offset":7},
  "width":502,"height":176,
  "layer":[
   {"data":{"name":"ln"},"transform":[{"filter":"datum.p=='V'"}],
    "mark":{"type":"line","strokeWidth":1,"interpolate":"catmull-rom","clip":true},
    "encoding":{
     "x":{"field":"x","type":"quantitative","scale":{"domain":[0,6],"nice":false,"zero":false},"axis":{"values":[0,1,2,3,4,5,6],"tickSize":-4.5,"labelPadding":9.5,"title":"V∞, km/s","titlePadding":2}},
     "y":{"field":"y","type":"quantitative","scale":{"domain":[13,60.5],"nice":false,"zero":false},"axis":{"values":[20,30,40,50,60],"tickSize":-4.5,"labelPadding":8.5,"title":"Attitude, km","titlePadding":5}},
     "color":{"field":"s","type":"nominal","scale":{"domain":["n","v","l","g"],"range":["#333333","#2ecc2e","#e02020","#2828c0"]},
       "legend":{"orient":"none","legendX":14,"legendY":9,"title":null,"symbolType":"M-2,0H2","symbolSize":196,
       "labelExpr":"datum.value=='n'?'[V∞*, L/D*, γ*]':datum.value=='v'?'[(V∞* + δV∞), L/D*, γ*]':datum.value=='l'?'[V∞*, (L/D* + δL/D), γ*]':'[V∞*, L/D*, (γ* + δγ)]'"}},
     "detail":{"field":"i"},
     "order":{"field":"y","sort":"descending"}
    }},
   {"data":{"name":"mk"},"transform":[{"filter":"datum.p=='V'"}],
    "mark":{"type":"point","shape":"triangle-left","filled":false,"stroke":"#333","strokeWidth":1,"size":110},
    "encoding":{
     "x":{"field":"x","type":"quantitative","scale":{"domain":[0,6],"nice":false,"zero":false},"axis":{"orient":"top","values":[0,1,2,3,4,5,6],"tickSize":-4.5,"labels":false,"title":null}},
     "y":{"field":"y","type":"quantitative","scale":{"domain":[13,60.5],"nice":false,"zero":false},"axis":{"orient":"right","values":[20,30,40,50,60],"tickSize":-4.5,"labels":false,"title":null}}
    }}
  ],
  "resolve":{"axis":{"x":"independent","y":"independent"}}
 },
 {
  "title":{"text":"Altitude vs. Flight Path Angle","fontSize":21,"offset":7},
  "width":502,"height":176,
  "layer":[
   {"data":{"name":"ln"},"transform":[{"filter":"datum.p=='F'"}],
    "mark":{"type":"line","strokeWidth":1,"interpolate":"catmull-rom","clip":true},
    "encoding":{
     "x":{"field":"x","type":"quantitative","scale":{"domain":[-30,0],"nice":false,"zero":false},"axis":{"values":[-30,-25,-20,-15,-10,-5,0],"tickSize":-4.5,"labelPadding":9.5,"title":"Flight Path Angle, deg","titlePadding":2}},
     "y":{"field":"y","type":"quantitative","scale":{"domain":[13,60.5],"nice":false,"zero":false},"axis":{"values":[20,30,40,50,60],"tickSize":-4.5,"labelPadding":8.5,"title":"Altitude, km","titlePadding":5}},
     "color":{"field":"s","type":"nominal","scale":{"domain":["n","v","l","g"],"range":["#333333","#2ecc2e","#e02020","#2828c0"]},
       "legend":{"orient":"none","legendX":8,"legendY":10,"title":null,"symbolType":"M-2,0H2","symbolSize":196,
       "labelExpr":"datum.value=='n'?'[V∞*, L/D*, γ*]':datum.value=='v'?'[(V∞* + δV∞), L/D*, γ*]':datum.value=='l'?'[V∞*, (L/D* + δL/D), γ*]':'[V∞*, L/D*, (γ* + δγ)]'"}},
     "detail":{"field":"i"},
     "order":{"field":"y","sort":"descending"}
    }},
   {"data":{"name":"mk"},"transform":[{"filter":"datum.p=='F'"}],
    "mark":{"type":"point","shape":"triangle-down","filled":false,"stroke":"#333","strokeWidth":1,"size":110},
    "encoding":{
     "x":{"field":"x","type":"quantitative","scale":{"domain":[-30,0],"nice":false,"zero":false},"axis":{"orient":"top","values":[-30,-25,-20,-15,-10,-5,0],"tickSize":-4.5,"labels":false,"title":null}},
     "y":{"field":"y","type":"quantitative","scale":{"domain":[13,60.5],"nice":false,"zero":false},"axis":{"orient":"right","values":[20,30,40,50,60],"tickSize":-4.5,"labels":false,"title":null}}
    }}
  ],
  "resolve":{"axis":{"x":"independent","y":"independent"}}
 }
 ],
 "spacing":158,"bounds":"flush",
 "resolve":{"scale":{"color":"independent"},"legend":{"color":"independent"}}
},
{
 "hconcat":[
 {
  "title":{"text":"Altitude vs. In Plane L/D","fontSize":21,"offset":7},
  "width":502,"height":178,
  "layer":[
   {"data":{"name":"ln"},"transform":[{"filter":"datum.p=='L'"}],
    "mark":{"type":"line","strokeWidth":1,"interpolate":"catmull-rom","clip":true},
    "encoding":{
     "x":{"field":"x","type":"quantitative","scale":{"domain":[0,0.1],"nice":false,"zero":false},"axis":{"values":[0,0.01,0.02,0.03,0.04,0.05,0.06,0.07,0.08,0.09,0.1],"format":"~g","tickSize":-4.5,"labelPadding":8,"title":"In Plane L/D  Ratio","titlePadding":3}},
     "y":{"field":"y","type":"quantitative","scale":{"domain":[13.4,60.5],"nice":false,"zero":false},"axis":{"values":[20,30,40,50,60],"tickSize":-4.5,"labelPadding":8.5,"title":"Altitude, km","titlePadding":5}},
     "color":{"field":"s","type":"nominal","scale":{"domain":["n","v","l","g"],"range":["#333333","#2ecc2e","#e02020","#2828c0"]},
       "legend":{"orient":"none","legendX":8,"legendY":8,"title":null,"symbolType":"M-2,0H2","symbolSize":196,
       "labelExpr":"datum.value=='n'?'[V∞*, L/D*, γ*]':datum.value=='v'?'[(V∞* + δV∞), L/D*, γ*]':datum.value=='l'?'[V∞*, (L/D* + δL/D), γ*]':'[V∞*, L/D*, (γ* + δγ)]'"}},
     "detail":{"field":"i"},
     "order":{"field":"y","sort":"descending"}
    }},
   {"data":{"name":"mk"},"transform":[{"filter":"datum.p=='L'"}],
    "mark":{"type":"point","shape":"triangle-down","filled":false,"stroke":"#333","strokeWidth":1,"size":110},
    "encoding":{
     "x":{"field":"x","type":"quantitative","scale":{"domain":[0,0.1],"nice":false,"zero":false},"axis":{"orient":"top","values":[0,0.01,0.02,0.03,0.04,0.05,0.06,0.07,0.08,0.09,0.1],"tickSize":-4.5,"labels":false,"title":null}},
     "y":{"field":"y","type":"quantitative","scale":{"domain":[13.4,60.5],"nice":false,"zero":false},"axis":{"orient":"right","values":[20,30,40,50,60],"tickSize":-4.5,"labels":false,"title":null}}
    }}
  ],
  "resolve":{"axis":{"x":"independent","y":"independent"}}
 },
 {
  "title":{"text":"Altitude vs. Angle of Attack","fontSize":21,"offset":7},
  "width":502,"height":178,
  "layer":[
   {"data":{"name":"ln"},"transform":[{"filter":"datum.p=='A'"}],
    "mark":{"type":"line","strokeWidth":1.2,"clip":true},
    "encoding":{
     "x":{"field":"x","type":"quantitative","scale":{"domain":[-6,6],"nice":false,"zero":false},"axis":{"values":[-6,-4,-2,0,2,4,6],"tickSize":-4.5,"labelPadding":8,"title":"Angle of Attack, deg","titlePadding":3}},
     "y":{"field":"y","type":"quantitative","scale":{"domain":[13.4,60.5],"nice":false,"zero":false},"axis":{"values":[20,30,40,50,60],"tickSize":-4.5,"labelPadding":8.5,"title":"Altitude, km","titlePadding":5}},
     "color":{"field":"s","type":"nominal","scale":{"domain":["n","v","l","g"],"range":["#333333","#2ecc2e","#e02020","#2828c0"]},
       "legend":{"orient":"none","legendX":161,"legendY":18,"title":null,"symbolType":"M-2,0H2","symbolSize":196,
       "labelExpr":"datum.value=='n'?'[V∞*, L/D*, γ*]':datum.value=='v'?'[(V∞* + δV∞), L/D*, γ*]':datum.value=='l'?'[V∞*, (L/D* + δL/D), γ*]':'[V∞*, L/D*, (γ* + δγ)]'"}},
     "detail":{"field":"i"},
     "order":{"field":"y","sort":"descending"}
    }},
   {"data":{"name":"mk"},"transform":[{"filter":"datum.p=='A'"}],
    "mark":{"type":"point","shape":"triangle-down","filled":false,"stroke":"#333","strokeWidth":1,"size":110},
    "encoding":{
     "x":{"field":"x","type":"quantitative","scale":{"domain":[-6,6],"nice":false,"zero":false},"axis":{"orient":"top","values":[-6,-4,-2,0,2,4,6],"tickSize":-4.5,"labels":false,"title":null}},
     "y":{"field":"y","type":"quantitative","scale":{"domain":[13.4,60.5],"nice":false,"zero":false},"axis":{"orient":"right","values":[20,30,40,50,60],"tickSize":-4.5,"labels":false,"title":null}}
    }}
  ],
  "resolve":{"axis":{"x":"independent","y":"independent"}}
 }
 ],
 "spacing":158,"bounds":"flush",
 "resolve":{"scale":{"color":"independent"},"legend":{"color":"independent"}}
}
],
"spacing":5,
"resolve":{"scale":{"color":"independent"},"legend":{"color":"independent"}}
}
],
"spacing":6,
"resolve":{"scale":{"color":"independent"},"legend":{"color":"independent"}}
}
